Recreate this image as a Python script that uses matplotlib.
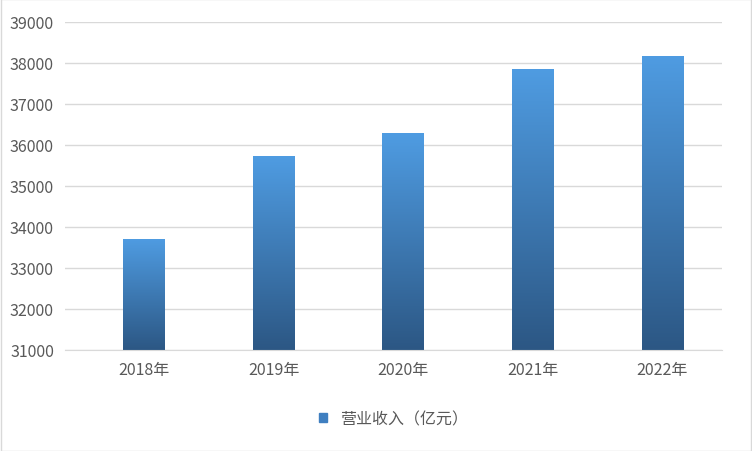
import numpy as np
import matplotlib.pyplot as plt
from matplotlib.colors import LinearSegmentedColormap
from matplotlib.patches import Rectangle

plt.rcParams['font.family'] = ['Noto Sans CJK SC', 'DejaVu Sans']

years = ['2018年', '2019年', '2020年', '2021年', '2022年']
revenue = [33710, 35730, 36290, 37860, 38180]
series_name = '营业收入（亿元）'

fig = plt.figure(figsize=(7.52, 4.52), dpi=100)
ax = fig.add_axes([65/752, 1-351/452, 657/752, 328/452])
fig.patches.append(Rectangle((0.001, 0.001), 0.998, 0.998, transform=fig.transFigure,
                             fill=False, edgecolor='#d9d9d9', linewidth=1))

cmap = LinearSegmentedColormap.from_list('g', ['#2c5784', '#4f9ce2'])
grad = np.linspace(0, 1, 256).reshape(-1, 1)
ymin = 31000
x = np.arange(len(years))
bars = ax.bar(x, [v - ymin for v in revenue], bottom=ymin, width=0.32, color='none', zorder=2)
for b in bars:
    x0, y0, w, h = b.get_x(), b.get_y(), b.get_width(), b.get_height()
    im = ax.imshow(grad, extent=[x0, x0 + w, y0, y0 + h], origin='lower',
                   cmap=cmap, aspect='auto', zorder=2)
    im.set_clip_path(b)

ax.set_xlim(-0.61, 4.46)
ax.set_ylim(31000, 39000)
ax.set_yticks(range(31000, 39001, 1000))
ax.set_xticks(x)
ax.set_xticklabels(years)
ax.grid(axis='y', color='#d9d9d9', linewidth=1, zorder=0)
ax.set_axisbelow(True)
for s in ['top', 'right', 'left']:
    ax.spines[s].set_visible(False)
ax.spines['bottom'].set_color('#d9d9d9')
ax.tick_params(length=0, labelsize=11.5, colors='#595959', pad=8)

ax.legend([Rectangle((0, 0), 1, 1, color='#3f7fc0')], [series_name], loc='upper center',
          bbox_to_anchor=(0.5, -0.14), frameon=False, fontsize=11.5,
          handlelength=0.5, handleheight=0.5, labelcolor='#595959')

fig.savefig('out.png', dpi=100)
